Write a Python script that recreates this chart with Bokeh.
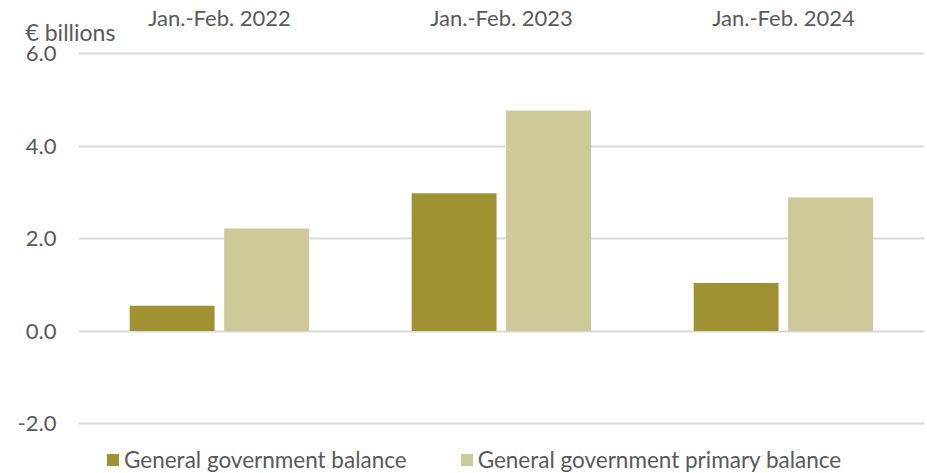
from bokeh.plotting import figure
from bokeh.models import ColumnDataSource, FactorRange, Range1d, Legend, LegendItem, FixedTicker, CustomJSTickFormatter, Title
from bokeh.transform import dodge
from bokeh.embed import file_html
from bokeh.resources import INLINE

categories = ["Jan.-Feb. 2022", "Jan.-Feb. 2023", "Jan.-Feb. 2024"]
gg_balance = [0.55, 2.98, 1.04]
gg_primary_balance = [2.22, 4.77, 2.89]
y_ticks = [-2.0, 0.0, 2.0, 4.0, 6.0]
series_names = ["General government balance", "General government primary balance"]
unit_label = "€ billions"

FONT = "Lato"
TXT = "#595959"
FS = "22px"

src = ColumnDataSource(dict(cat=categories, bal=gg_balance, prim=gg_primary_balance))

p = figure(width=927, height=473, x_range=FactorRange(*categories), y_range=Range1d(-3.078, 6.043),
           output_backend="svg", toolbar_location=None, x_axis_location="above",
           min_border_left=78, min_border_right=3, min_border_top=50, min_border_bottom=0)
p.outline_line_color = None
p.background_fill_color = "white"
p.border_fill_color = "white"
p.x_range.range_padding = 0

r1 = p.vbar(x=dodge("cat", -0.168, range=p.x_range), top="bal", width=0.301, source=src,
            fill_color="#A09133", line_color=None)
r2 = p.vbar(x=dodge("cat", 0.167, range=p.x_range), top="prim", width=0.301, source=src,
            fill_color="#CDC998", line_color=None)

p.xgrid.grid_line_color = None
p.ygrid.grid_line_color = "#D9D9D9"
p.ygrid.grid_line_width = 2
p.yaxis.ticker = FixedTicker(ticks=y_ticks)
p.yaxis.formatter = CustomJSTickFormatter(code="return tick.toFixed(1);")
for ax in (p.xaxis[0], p.yaxis[0]):
    ax.axis_line_color = None
    ax.major_tick_line_color = None
    ax.minor_tick_line_color = None
    ax.major_tick_out = 0
    ax.minor_tick_out = 0
    ax.major_label_text_font = FONT
    ax.major_label_text_font_size = FS
    ax.major_label_text_color = TXT
p.yaxis.major_label_standoff = 22
p.xaxis.major_label_standoff = -21

unit_title = Title(text=unit_label, align="left", offset=-53, standoff=12,
                   text_font=FONT, text_font_size="23px", text_color=TXT, text_font_style="normal")
p.add_layout(unit_title, "above")
p.above = [unit_title, p.xaxis[0]]

legend = Legend(items=[LegendItem(label=series_names[0], renderers=[r1]),
                       LegendItem(label=series_names[1], renderers=[r2])],
                orientation="horizontal", location=(27, 0), padding=0, margin=0,
                border_line_color=None, background_fill_alpha=0,
                glyph_width=15, glyph_height=15, label_standoff=4, spacing=52,
                label_text_font=FONT, label_text_font_size="22.5px", label_text_color=TXT)
p.add_layout(legend, "center")

open("out.html", "w").write(file_html(p, INLINE))
